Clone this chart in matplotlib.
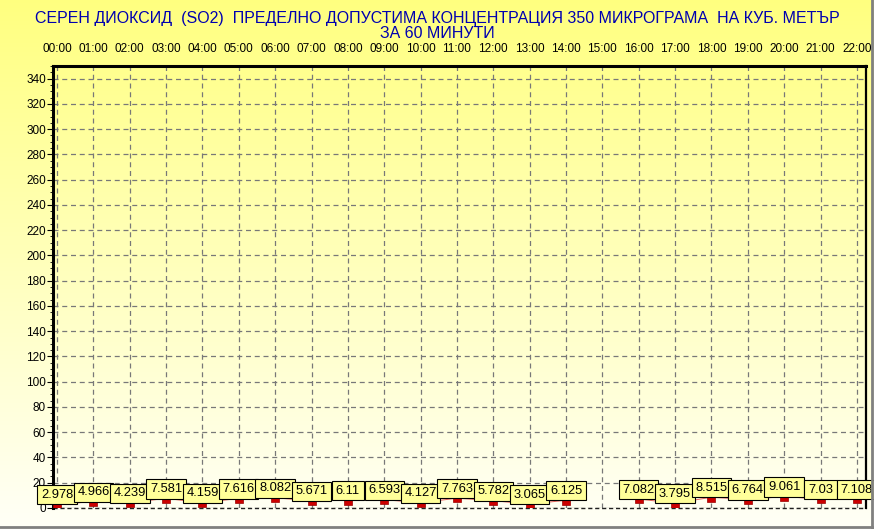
import numpy as np
import matplotlib
matplotlib.use("Agg")
import matplotlib.pyplot as plt
from matplotlib.lines import Line2D

plt.rcParams["font.family"] = ["Liberation Sans", "DejaVu Sans"]

hours = ["00:00", "01:00", "02:00", "03:00", "04:00", "05:00", "06:00", "07:00",
         "08:00", "09:00", "10:00", "11:00", "12:00", "13:00", "14:00", "15:00",
         "16:00", "17:00", "18:00", "19:00", "20:00", "21:00", "22:00"]
# 15:00 has no measurement
so2 = [2.978, 4.966, 4.239, 7.581, 4.159, 7.616, 8.082, 5.671, 6.11, 6.593,
       4.127, 7.763, 5.782, 3.065, 6.125, None, 7.082, 3.795, 8.515, 6.764,
       9.061, 7.03, 7.108]
value_labels = ["2.978", "4.966", "4.239", "7.581", "4.159", "7.616", "8.082",
                "5.671", "6.11", "6.593", "4.127", "7.763", "5.782", "3.065",
                "6.125", "", "7.082", "3.795", "8.515", "6.764", "9.061",
                "7.03", "7.108"]
y_ticks = list(range(0, 341, 20))

title = ("СЕРЕН ДИОКСИД  (SO2)  ПРЕДЕЛНО ДОПУСТИМА КОНЦЕНТРАЦИЯ 350 МИКРОГРАМА  НА КУБ. МЕТЪР\n"
         "ЗА 60 МИНУТИ")

fig = plt.figure(figsize=(8.74, 5.29), dpi=100)

# vertical yellow -> white gradient behind everything
bg = fig.add_axes([0, 0, 1, 1], zorder=-10)
grad = np.linspace(0.5, 0.97, 256).reshape(-1, 1)
img = np.dstack([np.ones_like(grad), np.ones_like(grad), grad])
bg.imshow(img, aspect="auto", extent=[0, 1, 0, 1], origin="upper")
bg.set_axis_off()
fig.add_artist(Line2D([0, 1], [0.003, 0.003], color="#808080", lw=2))
fig.add_artist(Line2D([0.998, 0.998], [0, 1], color="#808080", lw=2))

ax = fig.add_axes([53 / 874, 1 - 508 / 529, 813 / 874, 442 / 529])
ax.patch.set_alpha(0)

x = np.arange(len(hours))
vals = np.array([np.nan if v is None else v for v in so2])

# the marks are small red blocks hanging just below each value
mark_h = 3.4
ax.plot(x, vals, color="#e00000", lw=0.7, alpha=0.6, zorder=3)
ax.bar(x, mark_h, bottom=np.nan_to_num(vals) - mark_h, width=0.22,
       color="#cc0000", edgecolor="#990000", linewidth=0.5, zorder=4)

for xi, v, lab in zip(x, vals, value_labels):
    if np.isnan(v):
        continue
    ax.annotate(lab, (xi, v), xytext=(0, 2.5), textcoords="offset points",
                ha="center", va="bottom", fontsize=9.3, zorder=6,
                bbox=dict(boxstyle="square,pad=0.28", fc="#ffff99",
                          ec="black", lw=0.8))

ax.set_xlim(-0.11, 22.25)
ax.set_ylim(0, 350)
ax.set_xticks(x)
ax.set_xticklabels(hours)
ax.xaxis.tick_top()
ax.tick_params(axis="x", length=0, pad=8, labelsize=8.5)
ax.set_yticks(y_ticks)
ax.set_yticks(range(0, 351, 5), minor=True)
ax.tick_params(axis="y", length=4, width=0.8, labelsize=8.5, pad=1)
ax.tick_params(axis="y", which="minor", length=2, width=0.6)

ax.grid(True, color="#787878", linestyle=(0, (4, 3)), lw=0.9)
ax.set_axisbelow(True)
ax.spines["left"].set_linewidth(2.2)
ax.spines["top"].set_linewidth(2.2)
ax.spines["right"].set_linewidth(1.6)
ax.spines["bottom"].set_visible(False)
ax.axhline(0, color="#202020", linestyle=(0, (3, 2)), lw=1.0, zorder=2,
           clip_on=False)

fig.text(0.5, 1 - 26 / 529, title, ha="center", va="center",
         color="#0000b0", fontsize=11.5, linespacing=1.05)

fig.savefig("out.png", dpi=100)
